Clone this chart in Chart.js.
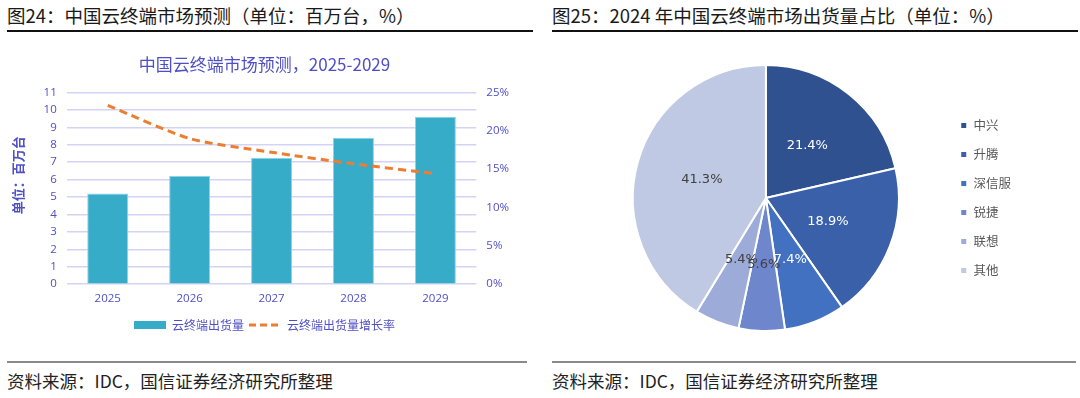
<!DOCTYPE html>
<html lang="zh-CN">
<head>
<meta charset="utf-8">
<script src="https://cdn.jsdelivr.net/npm/chart.js@4/dist/chart.umd.min.js"></script>
<style>
  html, body { margin: 0; padding: 0; background: #fff; }
  body { width: 1080px; height: 398px; position: relative; overflow: hidden;
         font-family: "Noto Sans CJK SC", "Noto Sans", sans-serif; }
  .fig-title { position: absolute; top: 2px; font-size: 18.5px; color: #1a1a1a; white-space: nowrap; line-height: 26px; }
  .rule-top { position: absolute; top: 30px; height: 2px; background: #111; }
  .rule-bottom { position: absolute; top: 361px; height: 2px; background: #8a8a8a; }
  .source { position: absolute; top: 369px; font-size: 17.5px; color: #222; white-space: nowrap; line-height: 24px; }
  .box { position: absolute; top: 40px; width: 540px; height: 305px; }
</style>
</head>
<body>
  <div class="fig-title" style="left:7px">图24：中国云终端市场预测（单位：百万台，%）</div>
  <div class="rule-top" style="left:7px; width:526px"></div>
  <div class="fig-title" style="left:552px">图25：2024 年中国云终端市场出货量占比（单位：%）</div>
  <div class="rule-top" style="left:552px; width:526px"></div>

  <div class="box" style="left:0"><canvas id="graficoPrevisao" width="540" height="305"></canvas></div>
  <div class="box" style="left:540px"><canvas id="graficoParticipacao" width="540" height="305"></canvas></div>

  <div class="rule-bottom" style="left:7px; width:520px"></div>
  <div class="source" style="left:7px">资料来源：IDC，国信证券经济研究所整理</div>
  <div class="rule-bottom" style="left:552px; width:524px"></div>
  <div class="source" style="left:552px">资料来源：IDC，国信证券经济研究所整理</div>

<script>
// dados
const anos = ['2025', '2026', '2027', '2028', '2029'];
const remessas = [5.2, 6.2, 7.25, 8.4, 9.6];          // 百万台
const crescimento = [23.3, 19.0, 17.2, 15.7, 14.4];   // %
const fabricantes = ['中兴', '升腾', '深信服', '锐捷', '联想', '其他'];
const participacao = [21.4, 18.9, 7.4, 5.6, 5.4, 41.3];
const coresFatias = ['#2F5190', '#3960A9', '#4371C2', '#6E86CB', '#9CABD8', '#BFC9E4'];
const coresRotulos = ['#ffffff', '#ffffff', '#ffffff', '#404040', '#404040', '#404040'];

const azul = '#4F4FC6';
const fonte = '"Open Sans", "Noto Sans CJK SC", sans-serif';

// gráfico de barras + linha
new Chart(document.getElementById('graficoPrevisao'), {
  type: 'bar',
  data: {
    labels: anos,
    datasets: [
      {
        label: '云终端出货量',
        data: remessas,
        backgroundColor: '#37ACC8',
        borderColor: '#8FD3E3',
        borderWidth: 1,
        barPercentage: 0.5,
        categoryPercentage: 1,
        yAxisID: 'y',
        order: 2
      },
      {
        type: 'line',
        label: '云终端出货量增长率',
        data: crescimento,
        borderColor: '#ED7D31',
        backgroundColor: '#ED7D31',
        borderWidth: 3,
        borderDash: [8, 5],
        pointRadius: 0,
        tension: 0.25,
        yAxisID: 'y1',
        order: 1
      }
    ]
  },
  options: {
    responsive: false,
    animation: false,
    layout: { padding: { left: 10, right: 21, top: 14, bottom: 4 } },
    plugins: {
      title: {
        display: true,
        text: '中国云终端市场预测，2025-2029',
        color: azul,
        font: { family: '"Noto Sans CJK SC", sans-serif', size: 17, weight: 'normal' },
        padding: { top: 0, bottom: 18 }
      },
      legend: {
        position: 'bottom',
        labels: {
          usePointStyle: true,
          pointStyleWidth: 32,
          boxHeight: 8,
          padding: 5,
          color: azul,
          font: { family: '"Noto Sans CJK SC", sans-serif', size: 12 },
          generateLabels: (chart) => {
            const itens = Chart.defaults.plugins.legend.labels.generateLabels(chart);
            itens.sort((a, b) => a.datasetIndex - b.datasetIndex);
            itens.forEach((item) => {
              if (item.datasetIndex === 0) {
                item.pointStyle = 'rect';
                item.lineWidth = 0;
              } else {
                item.pointStyle = 'line';
                item.lineWidth = 3;
                item.strokeStyle = '#ED7D31';
                item.lineDash = [7, 4];
              }
            });
            return itens;
          }
        }
      },
      tooltip: { enabled: false }
    },
    scales: {
      x: {
        grid: { display: false, drawTicks: false },
        border: { display: false },
        ticks: { color: azul, padding: 8, font: { family: fonte, size: 11.5 } }
      },
      y: {
        position: 'left',
        min: 0,
        max: 11,
        ticks: { stepSize: 1, autoSkip: false, color: azul, padding: 10, font: { family: fonte, size: 11.5 } },
        grid: { color: '#D3D3F6', lineWidth: 1.5, drawTicks: false },
        border: { display: false },
        title: {
          display: true,
          // espaços iniciais sobem o texto, como no original
          text: '\u3000\u3000单位：百万台',
          color: azul,
          font: { family: '"Noto Sans CJK SC", sans-serif', size: 13, weight: 'bold' },
          padding: { top: 0, bottom: 8 }
        }
      },
      y1: {
        position: 'right',
        min: 0,
        max: 25,
        ticks: { stepSize: 5, autoSkip: false, color: azul, padding: 10, font: { family: fonte, size: 11.5 },
                 callback: (v) => `${v}%` },
        grid: { drawOnChartArea: false, drawTicks: false },
        border: { display: false }
      }
    }
  }
});

// rótulos dentro das fatias
const rotulosFatias = {
  id: 'rotulosFatias',
  afterDatasetsDraw(chart) {
    const ctx = chart.ctx;
    const arcos = chart.getDatasetMeta(0).data;
    ctx.save();
    ctx.font = '13px "DejaVu Sans", sans-serif';
    ctx.textAlign = 'center';
    ctx.textBaseline = 'middle';
    arcos.forEach((arco, i) => {
      const pos = arco.tooltipPosition();
      ctx.fillStyle = coresRotulos[i];
      ctx.fillText(`${participacao[i].toFixed(1)}%`, pos.x, pos.y);
    });
    ctx.restore();
  }
};

// gráfico de pizza
new Chart(document.getElementById('graficoParticipacao'), {
  type: 'pie',
  data: {
    labels: fabricantes,
    datasets: [{
      data: participacao,
      backgroundColor: coresFatias,
      borderColor: '#ffffff',
      borderWidth: 2
    }]
  },
  options: {
    responsive: false,
    animation: false,
    layout: { padding: { left: 48, right: 59, top: 24, bottom: 13 } },
    plugins: {
      legend: {
        position: 'right',
        labels: {
          boxWidth: 7,
          boxHeight: 7,
          padding: 16.5,
          color: '#595959',
          font: { family: '"Noto Sans CJK SC", sans-serif', size: 12.5 }
        }
      },
      tooltip: { enabled: false }
    }
  },
  plugins: [rotulosFatias]
});
</script>
</body>
</html>
